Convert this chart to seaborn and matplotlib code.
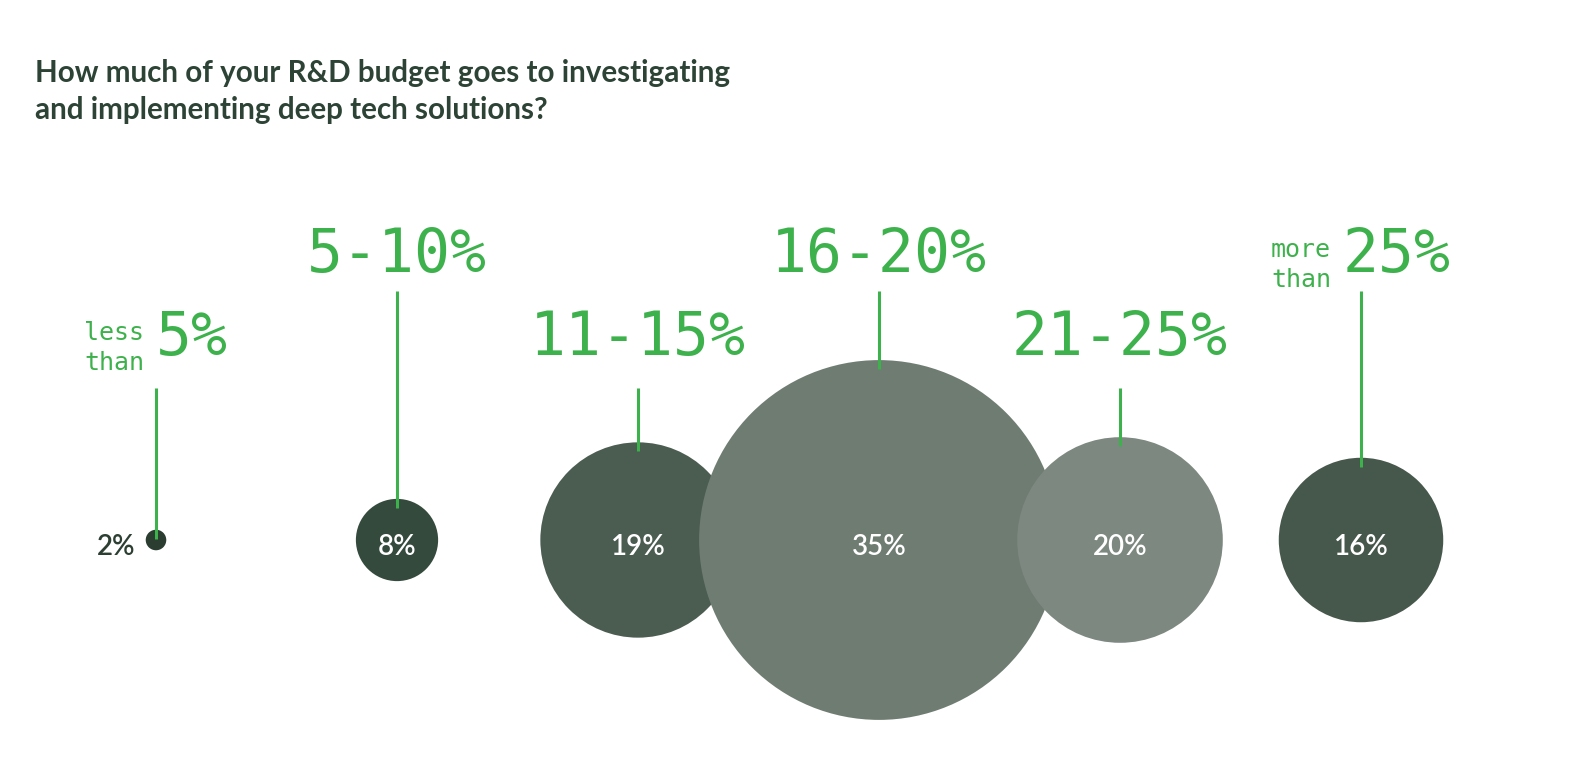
import numpy as np
import pandas as pd
import matplotlib
matplotlib.use("Agg")
import matplotlib.pyplot as plt
import seaborn as sns

# ---------------- data ----------------
categories = ["less than 5%", "5-10%", "11-15%", "16-20%", "21-25%", "more than 25%"]
label_small = ["less than", "", "", "", "", "more than"]
label_big = ["5%", "5-10%", "11-15%", "16-20%", "21-25%", "25%"]
shares = [2, 8, 19, 35, 20, 16]
colors = ["#2b3c30", "#344a3c", "#4b5c51", "#6f7c72", "#7d8880", "#46574b"]
label_level = ["low", "high", "low", "high", "low", "high"]

title = ("How much of your R&D budget goes to investigating\n"
         "and implementing deep tech solutions?")

# ---------------- style ----------------
GREEN = "#3db14b"
TITLE_C = "#2c4335"
DARK_TXT = "#2c3f32"
MONO = "DejaVu Sans Mono"

sns.set_theme(style="white")
plt.rcParams["font.family"] = ["Lato", "DejaVu Sans"]

W, H, DPI = 1572, 772, 100
UNIT = 241.0          # px per category step
X0, Y0 = 156.0, 540.0  # px position of first bubble centre (from top-left)


def px(p):
    return p / UNIT


fig = plt.figure(figsize=(W / DPI, H / DPI), dpi=DPI)
fig.patch.set_facecolor("white")
ax = fig.add_axes([0, 0, 1, 1])

R_PER_PCT = px(5.14)
radii = np.array(shares, dtype=float) * R_PER_PCT

df = pd.DataFrame({
    "category": categories,
    "pos": np.arange(len(categories)),
    "y": 0.0,
    "share": shares,
})
diam_pt = 2 * radii * UNIT * 72.0 / DPI
sns.scatterplot(data=df, x="pos", y="y", hue="category",
                palette=dict(zip(categories, colors)),
                s=diam_pt ** 2, linewidth=0, edgecolor="none",
                legend=False, ax=ax, zorder=2)

ax.set_xlim(-X0 / UNIT, (W - X0) / UNIT)
ax.set_ylim(-(H - Y0) / UNIT, Y0 / UNIT)
ax.set_axis_off()

level_base = {"high": px(Y0 - 272), "low": px(Y0 - 355)}
level_line_top = {"high": px(Y0 - 291), "low": px(Y0 - 388)}

# leader lines
for i, lev in enumerate(label_level):
    ax.vlines(i, radii[i] - px(9), level_line_top[lev], color=GREEN,
              lw=2.2, zorder=3)

fig.canvas.draw()
rend = fig.canvas.get_renderer()

BIG = 43
SMALL = 18
GAP = 12

for i, lev in enumerate(label_level):
    yb = level_base[lev]
    if label_small[i]:
        w1, w2 = label_small[i].split(" ")
        big = ax.text(i, yb, label_big[i], ha="left", va="baseline",
                      family=MONO, fontsize=BIG, color=GREEN)
        s1 = ax.text(i, yb - px(15) + px(30), w1, ha="left", va="baseline",
                     family=MONO, fontsize=SMALL, color=GREEN)
        s2 = ax.text(i, yb - px(15), w2, ha="left", va="baseline",
                     family=MONO, fontsize=SMALL, color=GREEN)
        wb = big.get_window_extent(rend).width
        ws = max(s1.get_window_extent(rend).width, s2.get_window_extent(rend).width)
        total = ws + GAP + wb
        left = i - px(total / 2)
        s1.set_x(left)
        s2.set_x(left)
        big.set_x(left + px(ws + GAP))
    else:
        ax.text(i, yb, label_big[i], ha="center", va="baseline",
                family=MONO, fontsize=BIG, color=GREEN)

# value labels
for i, v in enumerate(shares):
    t = ax.text(i, -px(15), f"{v}%", ha="center", va="baseline",
                fontsize=20, fontweight="semibold", color="white", zorder=4)
    w = t.get_window_extent(rend).width
    if w + 16 > 2 * radii[i] * UNIT:
        t.set_x(i - radii[i] - px(10))
        t.set_ha("right")
        t.set_color(DARK_TXT)

fig.text(35 / W, 1 - 59 / H, title, ha="left", va="top", fontsize=21.3,
         fontweight="bold", color=TITLE_C, linespacing=1.4)

fig.savefig("out.png", dpi=DPI, facecolor="white")
